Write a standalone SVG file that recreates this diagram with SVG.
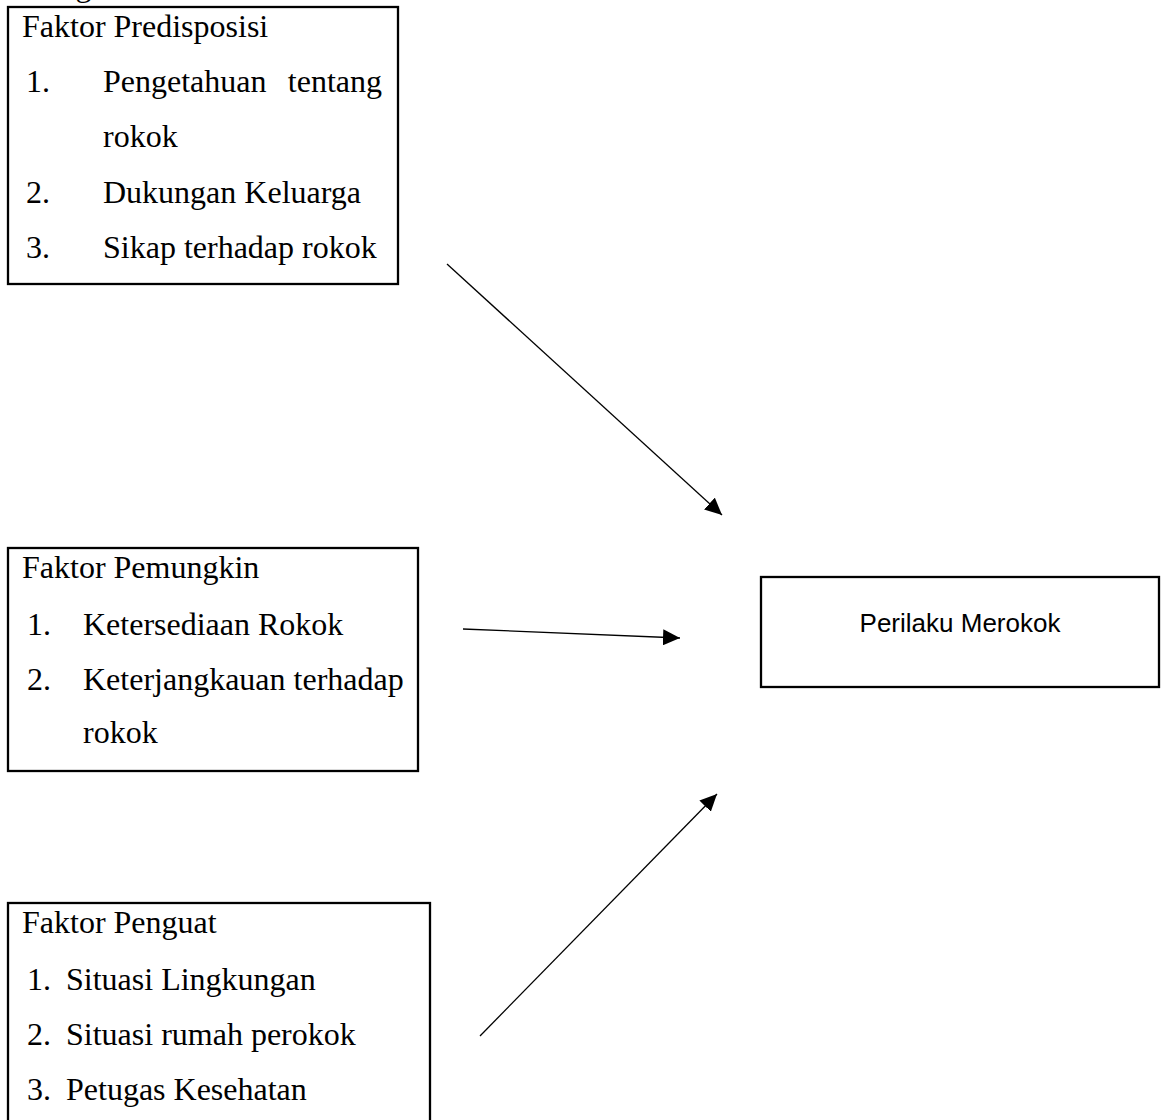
<svg xmlns="http://www.w3.org/2000/svg" width="1165" height="1120" viewBox="0 0 1165 1120">
<style>
.box{fill:#fff;stroke:#000;stroke-width:2.3}
.t{font-family:"Liberation Serif","Times New Roman",serif;font-size:32px;fill:#000}
.s{font-family:"Liberation Sans",Arial,sans-serif;font-size:26px;fill:#000}
.c{stroke:#000;stroke-width:1.3;fill:none;marker-end:url(#ah)}
</style>
<defs>
<marker id="ah" viewBox="0 0 17 16" refX="17" refY="8" markerWidth="17" markerHeight="16" markerUnits="userSpaceOnUse" orient="auto">
<path d="M0,0 L17,8 L0,16 z" fill="#000"/>
</marker>
</defs>
<rect width="1165" height="1120" fill="#fff"/>
<text class="t" x="40" y="-4">Bagan</text>
<g id="predisposisi">
<rect class="box" x="8" y="7" width="390" height="277"/>
<text class="t" x="22" y="37">Faktor Predisposisi</text>
<text class="t" x="26" y="92">1.</text>
<text class="t" x="103" y="92">Pengetahuan</text>
<text class="t" x="382" y="92" text-anchor="end">tentang</text>
<text class="t" x="103" y="147">rokok</text>
<text class="t" x="26" y="203">2.</text>
<text class="t" x="103" y="203">Dukungan Keluarga</text>
<text class="t" x="26" y="258">3.</text>
<text class="t" x="103" y="258">Sikap terhadap rokok</text>
</g>
<g id="pemungkin">
<rect class="box" x="8" y="548" width="410" height="223"/>
<text class="t" x="22" y="578">Faktor Pemungkin</text>
<text class="t" x="27" y="635">1.</text>
<text class="t" x="83" y="635">Ketersediaan Rokok</text>
<text class="t" x="27" y="690">2.</text>
<text class="t" x="83" y="690">Keterjangkauan terhadap</text>
<text class="t" x="83" y="743">rokok</text>
</g>
<g id="penguat">
<rect class="box" x="8" y="903" width="422" height="240"/>
<text class="t" x="22" y="933">Faktor Penguat</text>
<text class="t" x="27" y="990">1.</text>
<text class="t" x="66" y="990">Situasi Lingkungan</text>
<text class="t" x="27" y="1045">2.</text>
<text class="t" x="66" y="1045">Situasi rumah perokok</text>
<text class="t" x="27" y="1100">3.</text>
<text class="t" x="66" y="1100">Petugas Kesehatan</text>
</g>
<g id="perilaku">
<rect class="box" x="761" y="577" width="398" height="110"/>
<text class="s" x="960" y="632" text-anchor="middle">Perilaku Merokok</text>
</g>
<g id="connectors">
<line class="c" x1="447" y1="264" x2="722" y2="515"/>
<line class="c" x1="463" y1="629" x2="680" y2="638"/>
<line class="c" x1="480" y1="1036" x2="717" y2="794"/>
</g>
</svg>
